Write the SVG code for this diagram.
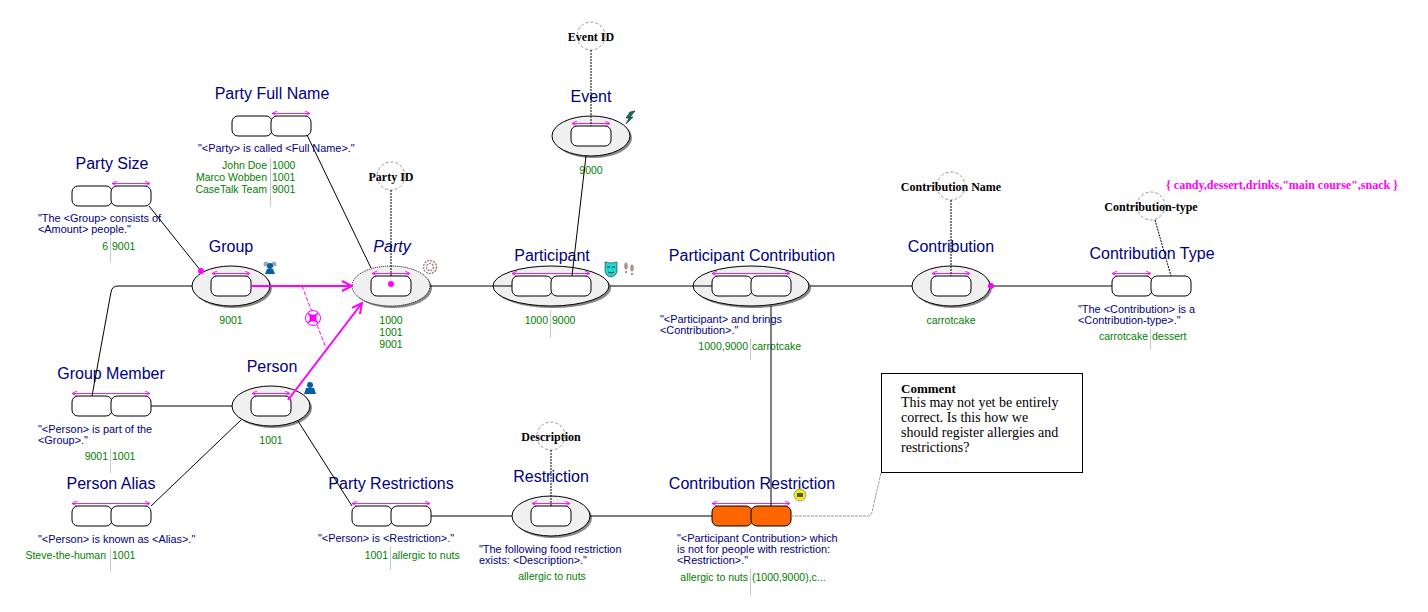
<svg xmlns="http://www.w3.org/2000/svg" width="1428" height="612" viewBox="0 0 1428 612">
<style>
text{font-family:"Liberation Sans",Arial,sans-serif}
.t{font-size:16px;fill:#000080;text-anchor:middle}
.f{font-size:10.900px;fill:#000080}
.v{font-size:10.500px;fill:#008000}
.e{text-anchor:end}
.m{text-anchor:middle}
.o{font-family:"Liberation Serif",serif;font-size:12px;font-weight:bold;fill:#000;text-anchor:middle}
.ell{fill:#f0f0f0;stroke:#000;stroke-width:1}
.sh{fill:#888}
.b{fill:#fff;stroke:#000;stroke-width:1}
.or{fill:#ff6600;stroke:#000;stroke-width:1}
.c{fill:none;stroke:#999;stroke-width:1;stroke-dasharray:3 2}
.l{fill:none;stroke:#000;stroke-width:1}
.d{fill:none;stroke:#000;stroke-width:1;stroke-dasharray:2 1}
.u{fill:none;stroke:#f020e0;stroke-width:1}
.g{stroke:#c8c8c8;stroke-width:1}
.s{fill:none;stroke:#ff00ff;stroke-width:2}
.cm{font-family:"Liberation Serif",serif;font-size:14px;fill:#000}
</style>
<defs>
<marker id="ua" markerWidth="6" markerHeight="6" refX="5" refY="2.500" orient="auto-start-reverse" markerUnits="userSpaceOnUse"><path d="M0 0L5 2.500L0 5" fill="none" stroke="#f020e0"/></marker>
<marker id="sa" markerWidth="12" markerHeight="12" refX="11" refY="6" orient="auto" markerUnits="userSpaceOnUse"><path d="M1 1L11 6L1 11" fill="none" stroke="#ff00ff" stroke-width="2"/></marker>
</defs>
<g id="party-full-name"><text class="t" x="272" y="99">Party Full Name</text>
<rect class="b" x="232" y="116" width="40" height="20" rx="6"/><rect class="b" x="271" y="116" width="40" height="20" rx="6"/>
<path class="u" marker-start="url(#ua)" marker-end="url(#ua)" d="M272 113.500H310"/>
<text class="f" x="198" y="152">"&lt;Party&gt; is called &lt;Full Name&gt;."</text>
<path class="g" d="M270.500 158V207"/>
<text class="v e" x="267" y="169">John Doe</text><text class="v" x="272" y="169">1000</text>
<text class="v e" x="267" y="181">Marco Wobben</text><text class="v" x="272" y="181">1001</text>
<text class="v e" x="267" y="193">CaseTalk Team</text><text class="v" x="272" y="193">9001</text></g>
<g id="party-size"><text class="t" x="112" y="169">Party Size</text>
<rect class="b" x="72" y="186" width="40" height="20" rx="6"/><rect class="b" x="111" y="186" width="40" height="20" rx="6"/>
<path class="u" marker-start="url(#ua)" marker-end="url(#ua)" d="M112 183.500H150"/>
<text class="f" x="38" y="222">"The &lt;Group&gt; consists of</text><text class="f" x="38" y="233">&lt;Amount&gt; people."</text>
<path class="g" d="M110.500 238V263"/>
<text class="v e" x="108" y="250">6</text><text class="v" x="112" y="250">9001</text></g>
<g id="group"><text class="t" x="231" y="252">Group</text>
<ellipse class="sh" cx="233" cy="288" rx="39" ry="20"/><ellipse class="ell" cx="231" cy="286" rx="39" ry="20"/>
<rect class="b" x="211" y="276" width="40" height="20" rx="6"/>
<path class="u" marker-start="url(#ua)" marker-end="url(#ua)" d="M212 273.500H250"/>
<text class="v m" x="231" y="324">9001</text>
<circle cx="266" cy="264" r="2.500" fill="#9ab"/><circle cx="274" cy="264" r="2.500" fill="#9ab"/><circle cx="270" cy="266" r="3" fill="#0060a8"/><path d="M265 274L267 269H273L275 274Z" fill="#0060a8"/></g>
<g id="party"><text class="t" x="392" y="252" font-style="italic">Party</text>
<ellipse class="sh" cx="393" cy="288" rx="39" ry="20"/><ellipse class="ell" cx="391" cy="286" rx="39" ry="20" stroke-dasharray="1 1"/>
<rect class="b" x="371" y="276" width="40" height="20" rx="6"/>
<path class="u" marker-start="url(#ua)" marker-end="url(#ua)" d="M372 273.500H410"/>
<circle cx="391" cy="284" r="3" fill="#ff00ff"/>
<text class="v m" x="391" y="324">1000</text><text class="v m" x="391" y="336">1001</text><text class="v m" x="391" y="348">9001</text>
<circle cx="430" cy="267" r="6.500" fill="none" stroke="#a88080" stroke-width="1.500" stroke-dasharray="2 1"/><circle cx="430" cy="267" r="3.500" fill="none" stroke="#a88080" stroke-width="1.500" stroke-dasharray="2 1"/></g>
<g id="party-id"><circle class="c" cx="391" cy="176" r="14"/><text class="o" x="391" y="181">Party ID</text></g>
<g id="event"><text class="t" x="591" y="102">Event</text>
<ellipse class="sh" cx="593" cy="138" rx="39" ry="20"/><ellipse class="ell" cx="591" cy="136" rx="39" ry="20"/>
<rect class="b" x="571" y="126" width="40" height="20" rx="6"/>
<path class="u" marker-start="url(#ua)" marker-end="url(#ua)" d="M572 123.500H610"/>
<text class="v m" x="591" y="174">9000</text>
<path d="M635 111L630 117H633L626 124L629 118H626L630 112Z" fill="#008060" stroke="#000" stroke-width="0.500"/></g>
<g id="event-id"><circle class="c" cx="591" cy="36" r="14"/><text class="o" x="591" y="41">Event ID</text></g>
<g id="participant"><text class="t" x="552" y="261">Participant</text>
<ellipse class="sh" cx="553" cy="288" rx="58" ry="20"/><ellipse class="ell" cx="551" cy="286" rx="58" ry="20"/>
<rect class="b" x="512" y="276" width="40" height="20" rx="6"/><rect class="b" x="551" y="276" width="40" height="20" rx="6"/>
<path class="u" marker-start="url(#ua)" marker-end="url(#ua)" d="M512 273.500H590"/>
<path class="g" d="M550.500 310V338"/>
<text class="v e" x="548" y="324">1000</text><text class="v" x="552" y="324">9000</text>
<path d="M605 262Q611 264 617 262V270Q617 276 611 277Q605 276 605 270Z" fill="#20d8d8" stroke="#000" stroke-width="0.500"/><path d="M607 267H610M612 267H615M608 272Q611 274 614 272" fill="none" stroke="#000" stroke-width="0.700"/>
<ellipse cx="626" cy="266" rx="1.800" ry="3.500" fill="#b09090"/><ellipse cx="632" cy="268" rx="1.800" ry="3.500" fill="#b09090"/><circle cx="626" cy="272" r="1.200" fill="#b09090"/><circle cx="632" cy="274" r="1.200" fill="#b09090"/></g>
<g id="participant-contribution"><text class="t" x="752" y="261">Participant Contribution</text>
<ellipse class="sh" cx="753" cy="288" rx="58" ry="20"/><ellipse class="ell" cx="751" cy="286" rx="58" ry="20"/>
<rect class="b" x="712" y="276" width="40" height="20" rx="6"/><rect class="b" x="751" y="276" width="40" height="20" rx="6"/>
<path class="u" marker-start="url(#ua)" marker-end="url(#ua)" d="M712 273.500H790"/>
<text class="f" x="660" y="323">"&lt;Participant&gt; and brings</text><text class="f" x="660" y="334">&lt;Contribution&gt;."</text>
<path class="g" d="M750.500 339V360"/>
<text class="v e" x="748" y="350">1000,9000</text><text class="v" x="752" y="350">carrotcake</text></g>
<g id="contribution"><text class="t" x="951" y="252">Contribution</text>
<ellipse class="sh" cx="953" cy="288" rx="39" ry="20"/><ellipse class="ell" cx="951" cy="286" rx="39" ry="20"/>
<rect class="b" x="931" y="276" width="40" height="20" rx="6"/>
<path class="u" marker-start="url(#ua)" marker-end="url(#ua)" d="M932 273.500H970"/>
<text class="v m" x="951" y="324">carrotcake</text></g>
<g id="contribution-name"><circle class="c" cx="951" cy="186" r="14"/><text class="o" x="951" y="191">Contribution Name</text></g>
<g id="contribution-type"><text class="t" x="1152" y="259">Contribution Type</text>
<rect class="b" x="1112" y="276" width="40" height="20" rx="6"/><rect class="b" x="1151" y="276" width="40" height="20" rx="6"/>
<path class="u" marker-start="url(#ua)" marker-end="url(#ua)" d="M1112 273.500H1151"/>
<text class="f" x="1078" y="313">"The &lt;Contribution&gt; is a</text><text class="f" x="1078" y="324">&lt;Contribution-type&gt;."</text>
<path class="g" d="M1150.500 329V350"/>
<text class="v e" x="1148" y="340">carrotcake</text><text class="v" x="1152" y="340">dessert</text></g>
<g id="contribution-type-value"><circle class="c" cx="1151" cy="206" r="14"/><text class="o" x="1151" y="211">Contribution-type</text>
<text x="1282" y="189" font-size="12" font-weight="bold" fill="#ff00ff" text-anchor="middle" style="font-family:'Liberation Serif',serif">{ candy,dessert,drinks,"main course",snack }</text></g>
<g id="group-member"><text class="t" x="111" y="379">Group Member</text>
<rect class="b" x="72" y="396" width="40" height="20" rx="6"/><rect class="b" x="111" y="396" width="40" height="20" rx="6"/>
<path class="u" marker-start="url(#ua)" marker-end="url(#ua)" d="M72 393.500H150"/>
<text class="f" x="38" y="433">"&lt;Person&gt; is part of the</text><text class="f" x="38" y="444">&lt;Group&gt;."</text>
<path class="g" d="M110.500 449V473"/>
<text class="v e" x="108" y="460">9001</text><text class="v" x="112" y="460">1001</text></g>
<g id="person"><text class="t" x="272" y="372">Person</text>
<ellipse class="sh" cx="273" cy="408" rx="39" ry="20"/><ellipse class="ell" cx="271" cy="406" rx="39" ry="20"/>
<rect class="b" x="251" y="396" width="40" height="20" rx="6"/>
<path class="u" marker-start="url(#ua)" marker-end="url(#ua)" d="M252 393.500H290"/>
<text class="v m" x="271" y="444">1001</text>
<circle cx="310" cy="385" r="3" fill="#0060a8"/><path d="M304 394L306 388H314L316 394Z" fill="#0060a8"/></g>
<g id="person-alias"><text class="t" x="111" y="489">Person Alias</text>
<rect class="b" x="72" y="506" width="40" height="20" rx="6"/><rect class="b" x="111" y="506" width="40" height="20" rx="6"/>
<path class="u" marker-start="url(#ua)" marker-end="url(#ua)" d="M72 503.500H150"/>
<text class="f" x="38" y="543">"&lt;Person&gt; is known as &lt;Alias&gt;."</text>
<path class="g" d="M110.500 548V572"/>
<text class="v e" x="106" y="559">Steve-the-human</text><text class="v" x="112" y="559">1001</text></g>
<g id="party-restrictions"><text class="t" x="391" y="489">Party Restrictions</text>
<rect class="b" x="352" y="506" width="40" height="20" rx="6"/><rect class="b" x="391" y="506" width="40" height="20" rx="6"/>
<path class="u" marker-start="url(#ua)" marker-end="url(#ua)" d="M352 503.500H430"/>
<text class="f" x="318" y="542">"&lt;Person&gt; is &lt;Restriction&gt;."</text>
<path class="g" d="M390.500 547V570"/>
<text class="v e" x="388" y="559">1001</text><text class="v" x="392" y="559">allergic to nuts</text></g>
<g id="restriction"><text class="t" x="551" y="482">Restriction</text>
<ellipse class="sh" cx="553" cy="518" rx="39" ry="20"/><ellipse class="ell" cx="551" cy="516" rx="39" ry="20"/>
<rect class="b" x="531" y="506" width="40" height="20" rx="6"/>
<path class="u" marker-start="url(#ua)" marker-end="url(#ua)" d="M532 503.500H570"/>
<text class="f" x="479" y="553">"The following food restriction</text><text class="f" x="479" y="564">exists: &lt;Description&gt;."</text>
<text class="v m" x="552" y="580">allergic to nuts</text></g>
<g id="description"><circle class="c" cx="551" cy="436" r="14"/><text class="o" x="551" y="441">Description</text></g>
<g id="contribution-restriction"><text class="t" x="752" y="489">Contribution Restriction</text>
<rect class="or" x="712" y="506" width="40" height="20" rx="6"/><rect class="or" x="751" y="506" width="40" height="20" rx="6"/>
<path class="u" marker-start="url(#ua)" marker-end="url(#ua)" d="M712 503.500H790"/>
<text class="f" x="677" y="542">"&lt;Participant Contribution&gt; which</text><text class="f" x="677" y="553">is not for people with restriction:</text><text class="f" x="677" y="564">&lt;Restriction&gt;."</text>
<path class="g" d="M750.500 569V596"/>
<text class="v e" x="748" y="581">allergic to nuts</text><text class="v" x="752" y="581">(1000,9000),c...</text></g>
<g id="comment"><rect x="881.500" y="373.500" width="201" height="99" fill="#fff" stroke="#000"/>
<text x="901" y="393" font-size="13" font-weight="bold" style="font-family:'Liberation Serif',serif">Comment</text>
<text class="cm" x="901" y="407">This may not yet be entirely</text><text class="cm" x="901" y="422">correct. Is this how we</text><text class="cm" x="901" y="437">should register allergies and</text><text class="cm" x="901" y="452">restrictions?</text></g>
<g id="connectors">
<path class="l" d="M192 286H118Q112 286 111 292L92 396"/>
<path class="l" d="M151 406H232"/>
<path class="l" d="M151 506L241 420"/>
<path class="l" d="M298 421L352 506"/>
<path class="l" d="M431 516H512"/>
<path class="l" d="M590 516H712"/>
<path class="l" d="M430 286H512"/>
<path class="l" d="M610 286H712"/>
<path class="l" d="M810 286H912"/>
<path class="l" d="M990 286H1112"/>
<path class="l" d="M771 306V506"/>
<path class="l" d="M586 156L572 276"/>
<path class="l" d="M307 135L371 268"/>
<path class="l" d="M149 206L201 271"/>
<path class="d" d="M391 190V276"/>
<path class="d" d="M591 50V126"/>
<path class="d" d="M951 200V276"/>
<path class="d" d="M551 450V506"/>
<path class="d" d="M1155 220L1171 276"/>
<path d="M791 516H868Q871 516 872 512L881 473" fill="none" stroke="#999" stroke-dasharray="3 1"/>
<path d="M302 286L326 348" fill="none" stroke="#ff00ff" stroke-dasharray="4 2"/>
<path class="s" marker-end="url(#sa)" d="M251 286H352"/>
<path class="s" marker-end="url(#sa)" d="M288 400L362 303"/>
<circle cx="313" cy="318" r="7.500" fill="#fff" stroke="#ff00ff"/>
<path d="M308 313L318 323M318 313L308 323" stroke="#ff00ff" stroke-width="1.500"/>
<rect x="309.500" y="314.500" width="7" height="7" fill="#ff00ff"/>
<circle cx="201" cy="271" r="3" fill="#ff00ff"/>
<circle cx="991" cy="286" r="3" fill="#ff00ff"/>
<circle cx="800" cy="495" r="6" fill="#f0f000" stroke="#999"/><rect x="797" y="493" width="6" height="4" fill="#555"/>
</g>
</svg>
